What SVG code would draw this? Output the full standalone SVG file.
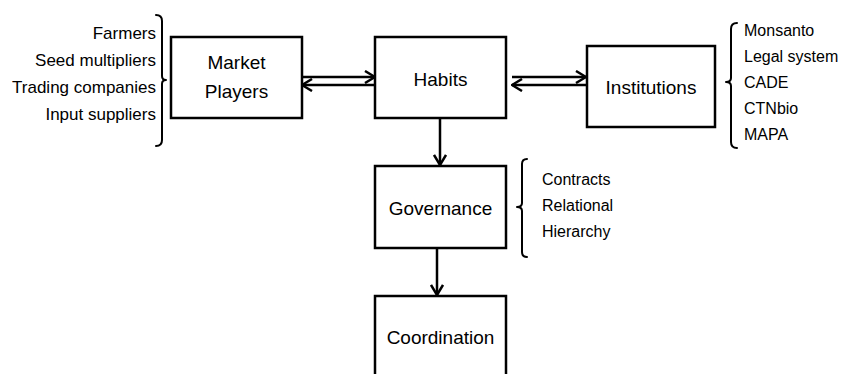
<svg xmlns="http://www.w3.org/2000/svg" width="842" height="374" viewBox="0 0 842 374">
  <style>
    .box { fill: #ffffff; stroke: #000000; stroke-width: 2.5; }
    .node-label { font-family: "Liberation Sans", Arial, sans-serif; font-size: 19px; fill: #000000; text-anchor: middle; }
    .list { font-family: "Liberation Sans", Arial, sans-serif; font-size: 17px; fill: #000000; }
    .list-sm { font-family: "Liberation Sans", Arial, sans-serif; font-size: 16px; fill: #000000; }
    .brace { fill: none; stroke: #000000; stroke-width: 2; stroke-linecap: round; stroke-linejoin: round; }
    .edge { fill: none; stroke: #000000; stroke-width: 2.5; }
  </style>
  <defs>
    <marker id="chevron" viewBox="0 0 12 14" refX="11" refY="7" markerWidth="12" markerHeight="14" markerUnits="userSpaceOnUse" orient="auto">
      <path d="M1,1 L11,7 L1,13" fill="none" stroke="#000000" stroke-width="2.5" stroke-linejoin="miter"/>
    </marker>
  </defs>

  <rect width="842" height="374" fill="#ffffff"/>

  <!-- Market players and their members -->
  <g id="market-players">
    <rect class="box" x="171" y="37" width="131" height="81"/>
    <text class="node-label" x="236.5" y="69">Market</text>
    <text class="node-label" x="236.5" y="98">Players</text>
  </g>
  <g id="market-members">
    <path class="brace" d="M156 15 Q162 15 162 21 L162 76 Q162 80 166 80 Q162 80 162 84 L162 140 Q162 146 156 146"/>
    <text class="list" x="156" y="39" text-anchor="end">Farmers</text>
    <text class="list" x="156" y="66" text-anchor="end">Seed multipliers</text>
    <text class="list" x="156" y="93" text-anchor="end">Trading companies</text>
    <text class="list" x="156" y="120" text-anchor="end">Input suppliers</text>
  </g>

  <!-- Habits -->
  <g id="habits">
    <rect class="box" x="375" y="37" width="131" height="81"/>
    <text class="node-label" x="440.5" y="86">Habits</text>
  </g>

  <!-- Institutions and their members -->
  <g id="institutions">
    <rect class="box" x="587" y="46" width="128" height="81"/>
    <text class="node-label" x="651" y="94">Institutions</text>
  </g>
  <g id="institution-members">
    <path class="brace" d="M737 23 Q731 23 731 29 L731 78 Q731 82 726 82 Q731 82 731 86 L731 142 Q731 148 737 148"/>
    <text class="list-sm" x="744" y="36">Monsanto</text>
    <text class="list-sm" x="744" y="62">Legal system</text>
    <text class="list-sm" x="744" y="88">CADE</text>
    <text class="list-sm" x="744" y="114">CTNbio</text>
    <text class="list-sm" x="744" y="140">MAPA</text>
  </g>

  <!-- Governance and its forms -->
  <g id="governance">
    <rect class="box" x="375" y="166" width="131" height="82"/>
    <text class="node-label" x="440.5" y="215">Governance</text>
  </g>
  <g id="governance-forms">
    <path class="brace" d="M527 159 Q522 159 522 164 L522 203 Q522 207 517 207 Q522 207 522 211 L522 252 Q522 257 527 257"/>
    <text class="list-sm" x="542" y="185">Contracts</text>
    <text class="list-sm" x="542" y="211">Relational</text>
    <text class="list-sm" x="542" y="237">Hierarchy</text>
  </g>

  <!-- Coordination (box runs past the lower edge) -->
  <g id="coordination">
    <rect class="box" x="375" y="296" width="131" height="90"/>
    <text class="node-label" x="440.5" y="344">Coordination</text>
  </g>

  <!-- Connectors -->
  <g id="connectors">
    <line class="edge" x1="302" y1="77" x2="375" y2="77" marker-end="url(#chevron)"/>
    <line class="edge" x1="375" y1="85" x2="302" y2="85" marker-end="url(#chevron)"/>
    <line class="edge" x1="512" y1="77" x2="586" y2="77" marker-end="url(#chevron)"/>
    <line class="edge" x1="586" y1="85" x2="512" y2="85" marker-end="url(#chevron)"/>
    <line class="edge" x1="440" y1="118" x2="440" y2="165" marker-end="url(#chevron)"/>
    <line class="edge" x1="437" y1="248" x2="437" y2="295" marker-end="url(#chevron)"/>
  </g>
</svg>
